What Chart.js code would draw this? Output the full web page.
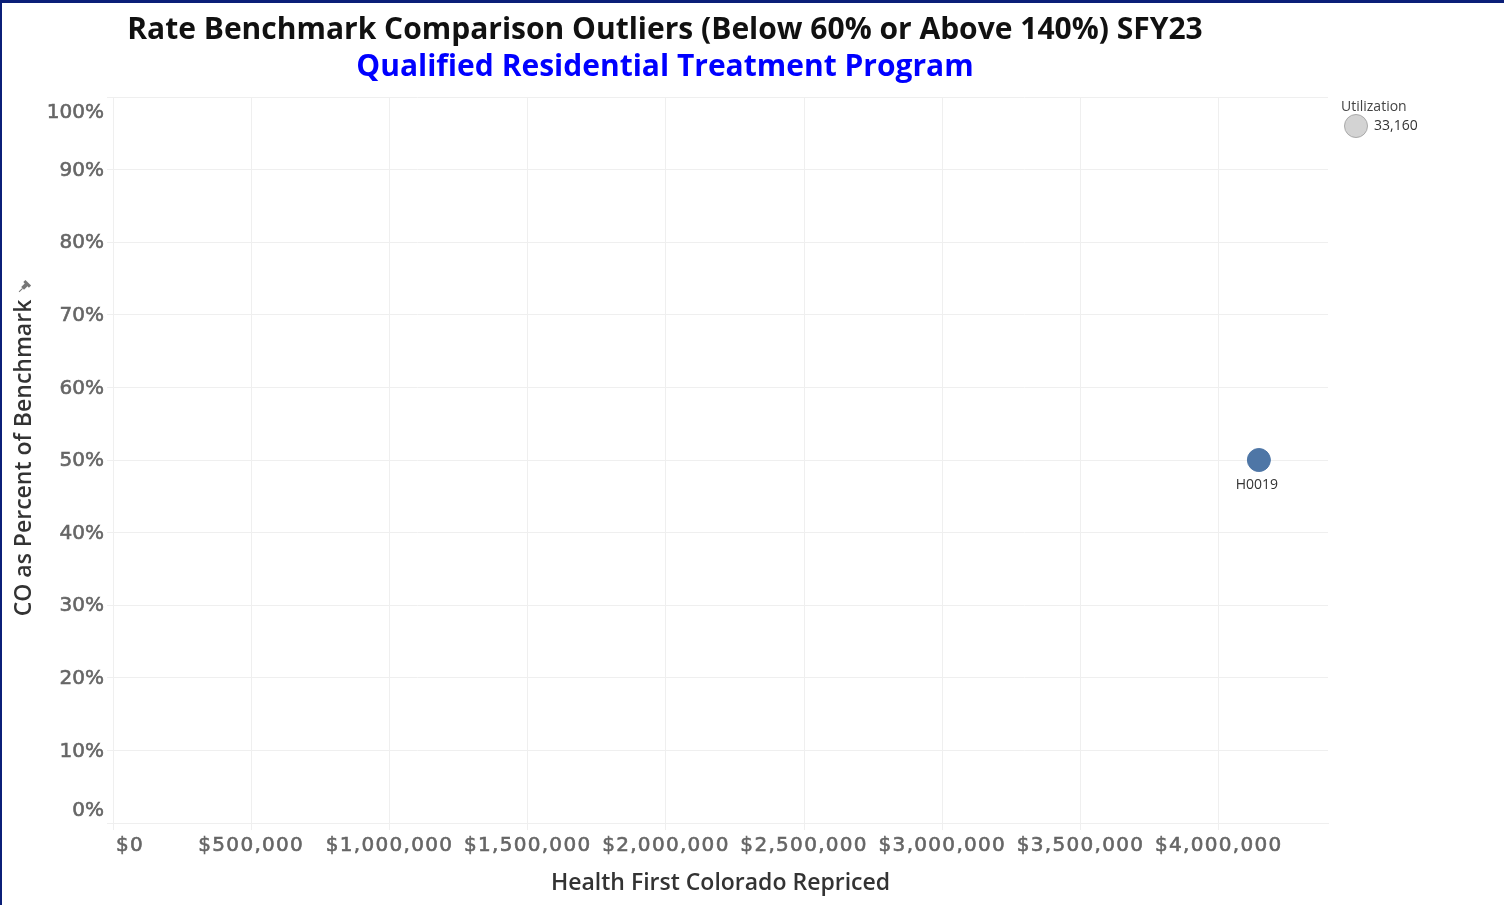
<!DOCTYPE html>
<html>
<head>
<meta charset="utf-8">
<title>Rate Benchmark Comparison Outliers</title>
<script src="https://cdn.jsdelivr.net/npm/chart.js@4.4.1/dist/chart.umd.min.js"></script>
<style>
    html, body { margin: 0; padding: 0; background: #fff; overflow: hidden; }
    #wrap { position: relative; width: 1504px; height: 905px; }
    canvas { display: block; }
</style>
</head>
<body>
<div id="wrap"><canvas id="outlierChart" width="1504" height="905"></canvas></div>
<script>
// data
const procCodes = ['H0019'];
const repricedAmount = [4145000];
const pctOfBenchmark = [0.50];
const utilization = [33160];
const xTickValues = [0, 500000, 1000000, 1500000, 2000000, 2500000, 3000000, 3500000, 4000000];
const yTickValues = [0, 0.1, 0.2, 0.3, 0.4, 0.5, 0.6, 0.7, 0.8, 0.9, 1.0];

const FONT = "'Open Sans', 'DejaVu Sans', sans-serif";
const TICK_FONT = "'DejaVu Sans', sans-serif";
const GRID = "#efefef";

function money(v) {
    return "$" + v.toLocaleString("en-US");
}

// slightly heavier text, like the tableau book font
function boldish(ctx, txt, x, y) {
    ctx.fillText(txt, x, y);
    ctx.strokeText(txt, x, y);
}

// tick labels, titles, legend and mark labels (tableau style placement)
const decoPlugin = {
    id: "deco",
    beforeDraw(chart) {
        const ctx = chart.ctx;
        ctx.save();
        ctx.fillStyle = "#fff";
        ctx.fillRect(0, 0, chart.width, chart.height);
        ctx.restore();
    },
    afterDraw(chart) {
        const ctx = chart.ctx;
        const xs = chart.scales.x, ys = chart.scales.y;
        const area = chart.chartArea;
        ctx.save();

        // frame
        ctx.fillStyle = "#0b1f78";
        ctx.fillRect(0, 0, chart.width, 3);
        ctx.fillRect(0, 0, 2, chart.height);

        // title
        ctx.textAlign = "center";
        ctx.textBaseline = "middle";
        ctx.font = "bold 30px " + FONT;
        ctx.fillStyle = "#111";
        ctx.fillText("Rate Benchmark Comparison Outliers (Below 60% or Above 140%) SFY23", 665, 30);
        ctx.fillStyle = "#0000ff";
        ctx.fillText("Qualified Residential Treatment Program", 665, 67);

        // y tick labels
        ctx.font = "20px " + TICK_FONT;
        ctx.fillStyle = "#666";
        ctx.strokeStyle = "#666";
        ctx.lineWidth = 0.6;
        ctx.textAlign = "right";
        yTickValues.forEach(v => {
            let py = ys.getPixelForValue(v);
            if (v === 1) py += 15;
            if (v === 0) py -= 13;
            boldish(ctx, Math.round(v * 100) + "%", 104, py + 1);
        });

        // x tick labels
        ctx.letterSpacing = "1.3px";
        xTickValues.forEach(v => {
            const px = xs.getPixelForValue(v);
            if (v === 0) {
                ctx.textAlign = "left";
                boldish(ctx, money(v), px + 3, 846);
            } else {
                ctx.textAlign = "center";
                boldish(ctx, money(v), px, 846);
            }
        });
        ctx.letterSpacing = "0px";

        // axis titles
        ctx.fillStyle = "#333";
        ctx.font = "600 23px " + FONT;
        ctx.textAlign = "center";
        ctx.fillText("Health First Colorado Repriced", (area.left + area.right) / 2, 883);
        ctx.save();
        ctx.translate(24, (area.top + area.bottom) / 2 - 2);
        ctx.rotate(-Math.PI / 2);
        ctx.fillText("CO as Percent of Benchmark", 0, 0);
        ctx.restore();

        // little pin next to the y title
        ctx.save();
        ctx.translate(24, 287);
        ctx.rotate(Math.PI / 4);
        ctx.fillStyle = "#777";
        ctx.fillRect(-4, -6, 8, 3);
        ctx.fillRect(-2, -4, 4, 6);
        ctx.fillRect(-0.5, 2, 1, 5);
        ctx.restore();

        // mark labels
        ctx.font = "14px " + FONT;
        ctx.fillStyle = "#333";
        procCodes.forEach((c, i) => {
            ctx.fillText(c, xs.getPixelForValue(repricedAmount[i]) - 2, ys.getPixelForValue(pctOfBenchmark[i]) + 25);
        });

        // size legend
        ctx.textAlign = "left";
        ctx.fillStyle = "#444";
        ctx.fillText("Utilization", 1341, 107);
        ctx.beginPath();
        ctx.arc(1356, 126, 11.5, 0, Math.PI * 2);
        ctx.fillStyle = "#d3d3d3";
        ctx.fill();
        ctx.strokeStyle = "#aaa";
        ctx.lineWidth = 1;
        ctx.stroke();
        ctx.fillStyle = "#333";
        ctx.fillText(utilization[0].toLocaleString("en-US"), 1374, 126);

        ctx.restore();
    }
};

const ctx = document.getElementById("outlierChart").getContext("2d");

new Chart(ctx, {
    type: "scatter",
    data: {
        datasets: [{
            label: "Utilization",
            data: procCodes.map((c, i) => ({ x: repricedAmount[i], y: pctOfBenchmark[i], util: utilization[i] })),
            backgroundColor: "#4e76a6",
            borderColor: "#4e76a6",
            pointRadius: 11.5,
            pointHoverRadius: 11.5
        }]
    },
    options: {
        responsive: false,
        animation: false,
        layout: { padding: { left: 107, right: 176, top: 97, bottom: 75 } },
        plugins: {
            legend: { display: false },
            tooltip: { enabled: false }
        },
        scales: {
            x: {
                type: "linear",
                min: 0,
                max: 4395000,
                afterBuildTicks: axis => { axis.ticks = xTickValues.map(v => ({ value: v })); },
                ticks: { display: false },
                grid: { color: GRID, lineWidth: 1, drawTicks: true, tickLength: 7 },
                border: { display: true, color: GRID }
            },
            y: {
                type: "linear",
                min: 0,
                max: 1,
                afterBuildTicks: axis => { axis.ticks = yTickValues.map(v => ({ value: v })); },
                ticks: { display: false },
                grid: { color: GRID, lineWidth: 1, drawTicks: true, tickLength: 6 },
                border: { display: true, color: GRID }
            }
        }
    },
    plugins: [decoPlugin]
});
</script>
</body>
</html>
